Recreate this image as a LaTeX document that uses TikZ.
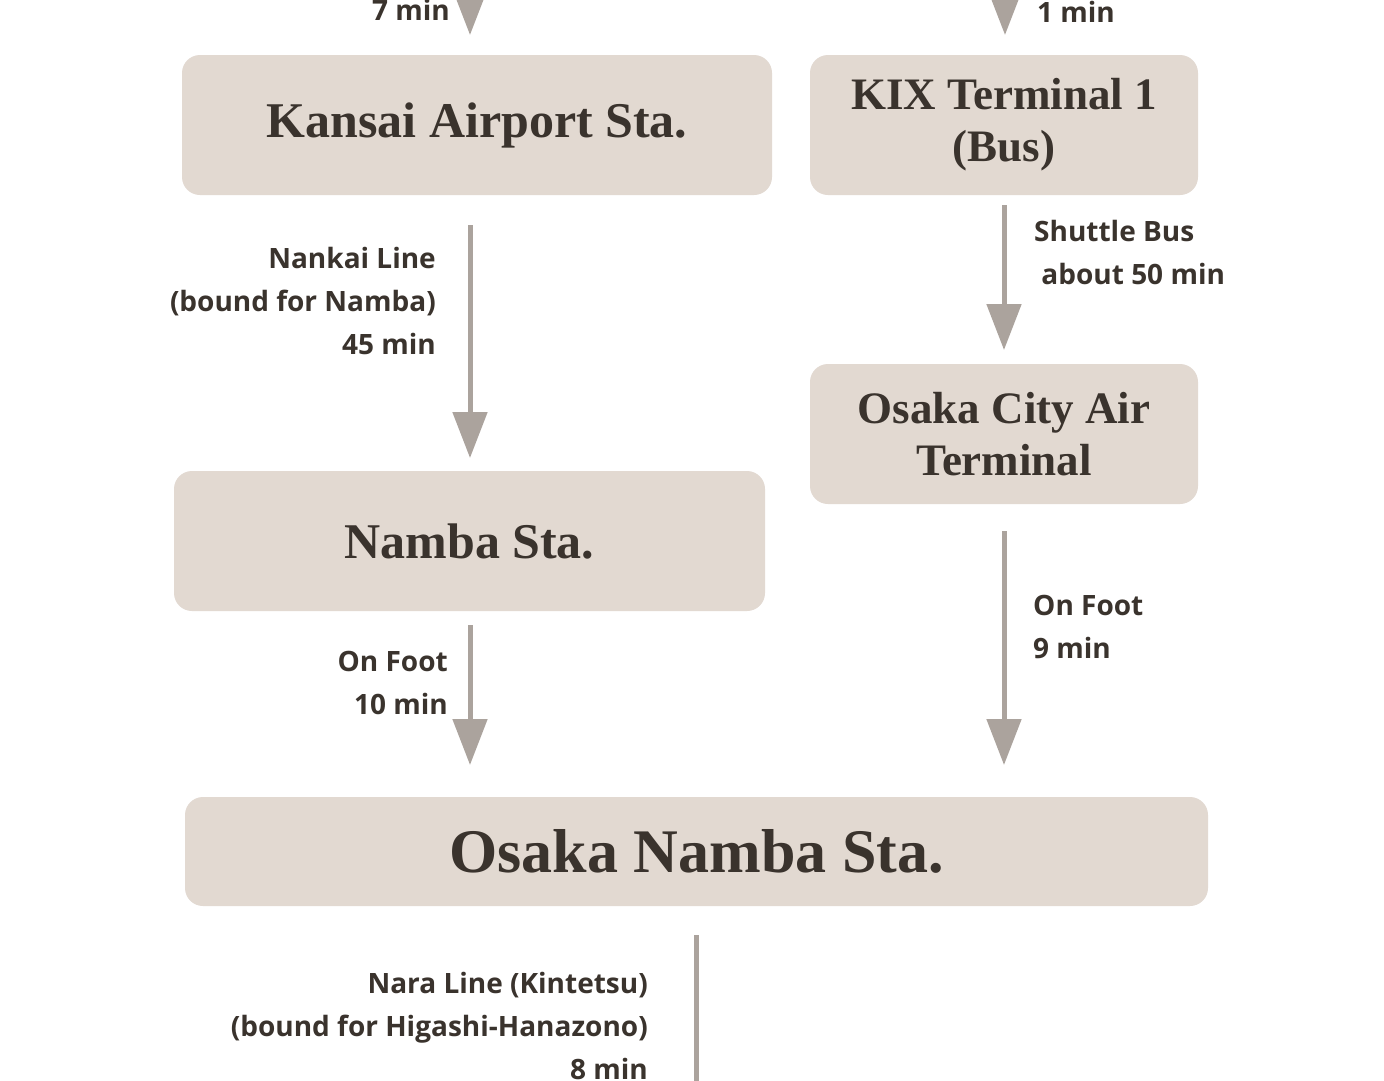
\documentclass[tikz,border=0pt]{standalone}
\usepackage{fontspec}
\setmainfont{Liberation Serif}
\newfontfamily\labelfont{Open Sans}
\usetikzlibrary{arrows.meta}
\definecolor{boxfill}{HTML}{E2D9D1}
\definecolor{arrowgray}{HTML}{ABA39D}
\definecolor{inkdark}{HTML}{3A332D}
\tikzset{
  station/.style={fill=boxfill, rounded corners=18pt, text=inkdark, align=center,
    font=\fontsize{50}{54}\selectfont\bfseries, inner sep=0pt},
  route/.style={draw=arrowgray, line width=5pt, -{Triangle[width=34pt,length=46pt]}},
  note/.style={text=inkdark, font=\labelfont\bfseries\fontsize{28}{43}\selectfont, inner sep=0pt}
}
\begin{document}
\begin{tikzpicture}[x=1pt,y=-1pt]
  \useasboundingbox[fill=white] (0,0) rectangle (1384,1080);

  % Stations
  \node[station, minimum width=590pt, minimum height=140pt] (kansai) at (477,125) {Kansai Airport Sta.};
  \node[station, minimum width=388pt, minimum height=140pt, font=\fontsize{45}{52}\selectfont\bfseries] (kix) at (1004,125) {KIX Terminal 1\\(Bus)};
  \node[station, minimum width=591pt, minimum height=140pt] (namba) at (469.5,541) {Namba Sta.};
  \node[station, minimum width=388pt, minimum height=140pt, font=\fontsize{45}{52}\selectfont\bfseries] (ocat) at (1004,434) {Osaka City Air\\Terminal};
  \node[station, minimum width=1023pt, minimum height=109pt, font=\fontsize{62}{66}\selectfont\bfseries] (osakanamba) at (696.5,851.5) {Osaka Namba Sta.};

  % Free ends
  \coordinate (topL) at (470,-20);
  \coordinate (topR) at (1005,-20);
  \coordinate (bottom) at (696,1120);

  % Routes
  \draw[route] (topL) -- (470,35);
  \draw[route] (topR) -- (1005,35);
  \draw[route] (470,225) -- (470,458);
  \draw[route] (1004,205) -- (1004,350);
  \draw[route] (470,625) -- (470,765);
  \draw[route] (1004,531) -- (1004,765);
  \draw[route, -] (696,935) -- (bottom);

  % Labels
  \node[note, anchor=east] (lblseven) at (450,10) {7 min};
  \node[note, anchor=west] (lblone) at (1037,12) {1 min};
  \node[note, anchor=east, align=right] (lblnankai) at (436,301) {Nankai Line\\(bound for Namba)\\45 min};
  \node[note, anchor=west, align=left] (lblshuttle) at (1034,252) {Shuttle Bus\\\ about 50 min};
  \node[note, anchor=east, align=right] (lblfootten) at (448,683) {On Foot\\10 min};
  \node[note, anchor=west, align=left] (lblfootnine) at (1033,627) {On Foot\\9 min};
  \node[note, anchor=east, align=right] (lblnara) at (648,1026) {Nara Line (Kintetsu)\\(bound for Higashi-Hanazono)\\8 min};
\end{tikzpicture}
\end{document}
